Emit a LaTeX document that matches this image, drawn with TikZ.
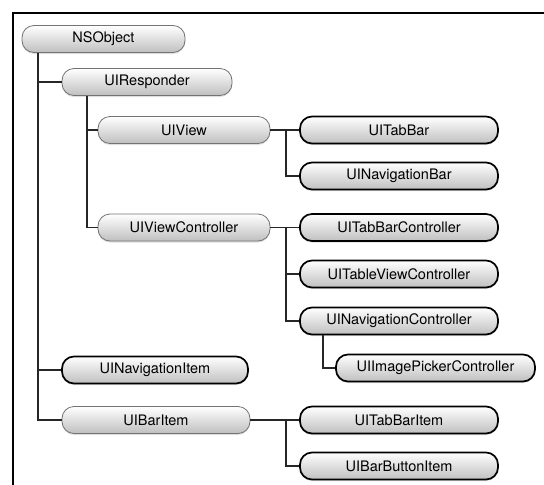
\documentclass[tikz,border=0pt]{standalone}
\usepackage{fontspec}
\setmainfont{TeX Gyre Heros}
\usetikzlibrary{shadows}
\begin{document}
\begin{tikzpicture}[x=1pt,y=-1pt,
  pill/.style={rectangle, rounded corners=12pt, minimum height=27pt, inner sep=0pt,
    top color=white, bottom color=black!25, font=\fontsize{14.5}{16}\selectfont,
    drop shadow={shadow xshift=0pt, shadow yshift=-1.5pt, opacity=0.25}},
  concrete/.style={pill, draw=black, line width=1.7pt},
  abstract/.style={pill, draw=black!55, line width=0.8pt},
  link/.style={draw=black!85, line width=1.2pt}]
\useasboundingbox (0,0) rectangle (544,485);
\fill[white] (0,0) rectangle (544,485);
\draw[line width=2pt] (544,13) -- (13,13) -- (13,485);
% nodes
\node[abstract, minimum width=163pt] (nso) at (103.5,39) {NSObject};
\node[abstract, minimum width=170pt] (resp) at (147,82) {UIResponder};
\node[abstract, minimum width=172pt] (view) at (184,130) {UIView};
\node[concrete, minimum width=198pt] (tabbar) at (399,130) {UITabBar};
\node[concrete, minimum width=198pt] (navbar) at (399,176) {UINavigationBar};
\node[abstract, minimum width=172pt] (vc) at (184,227.5) {UIViewController};
\node[concrete, minimum width=198pt] (tbc) at (399,227.5) {UITabBarController};
\node[concrete, minimum width=198pt] (tvc) at (399,274) {UITableViewController};
\node[concrete, minimum width=198pt] (nc) at (399,321) {UINavigationController};
\node[concrete, minimum width=199pt] (ipc) at (435.5,368) {UIImagePickerController};
\node[concrete, minimum width=186pt] (navitem) at (155,370) {UINavigationItem};
\node[abstract, minimum width=188pt] (baritem) at (156,420) {UIBarItem};
\node[concrete, minimum width=198pt] (tbi) at (399,420) {UITabBarItem};
\node[concrete, minimum width=198pt] (bbi) at (399,466) {UIBarButtonItem};
% junction coordinates
\coordinate (j0) at ([xshift=-65.5pt]nso.south);
\coordinate (j1) at ([xshift=-60pt]resp.south);
\coordinate (jv) at (286,130);
\coordinate (jc) at (286,227.5);
\coordinate (jn) at ([xshift=-76pt]nc.south);
\coordinate (jb) at (286,420);
% connectors
\draw[link] (j0) |- (resp.west);
\draw[link] (j0) |- (navitem.west);
\draw[link] (j0) |- (baritem.west);
\draw[link] (j1) |- (view.west);
\draw[link] (j1) |- (vc.west);
\draw[link] (view.east) -- (tabbar.west);
\draw[link] (jv) |- (navbar.west);
\draw[link] (vc.east) -- (tbc.west);
\draw[link] (jc) |- (tvc.west);
\draw[link] (jc) |- (nc.west);
\draw[link] (jn) |- (ipc.west);
\draw[link] (baritem.east) -- (tbi.west);
\draw[link] (jb) |- (bbi.west);
\end{tikzpicture}
\end{document}
